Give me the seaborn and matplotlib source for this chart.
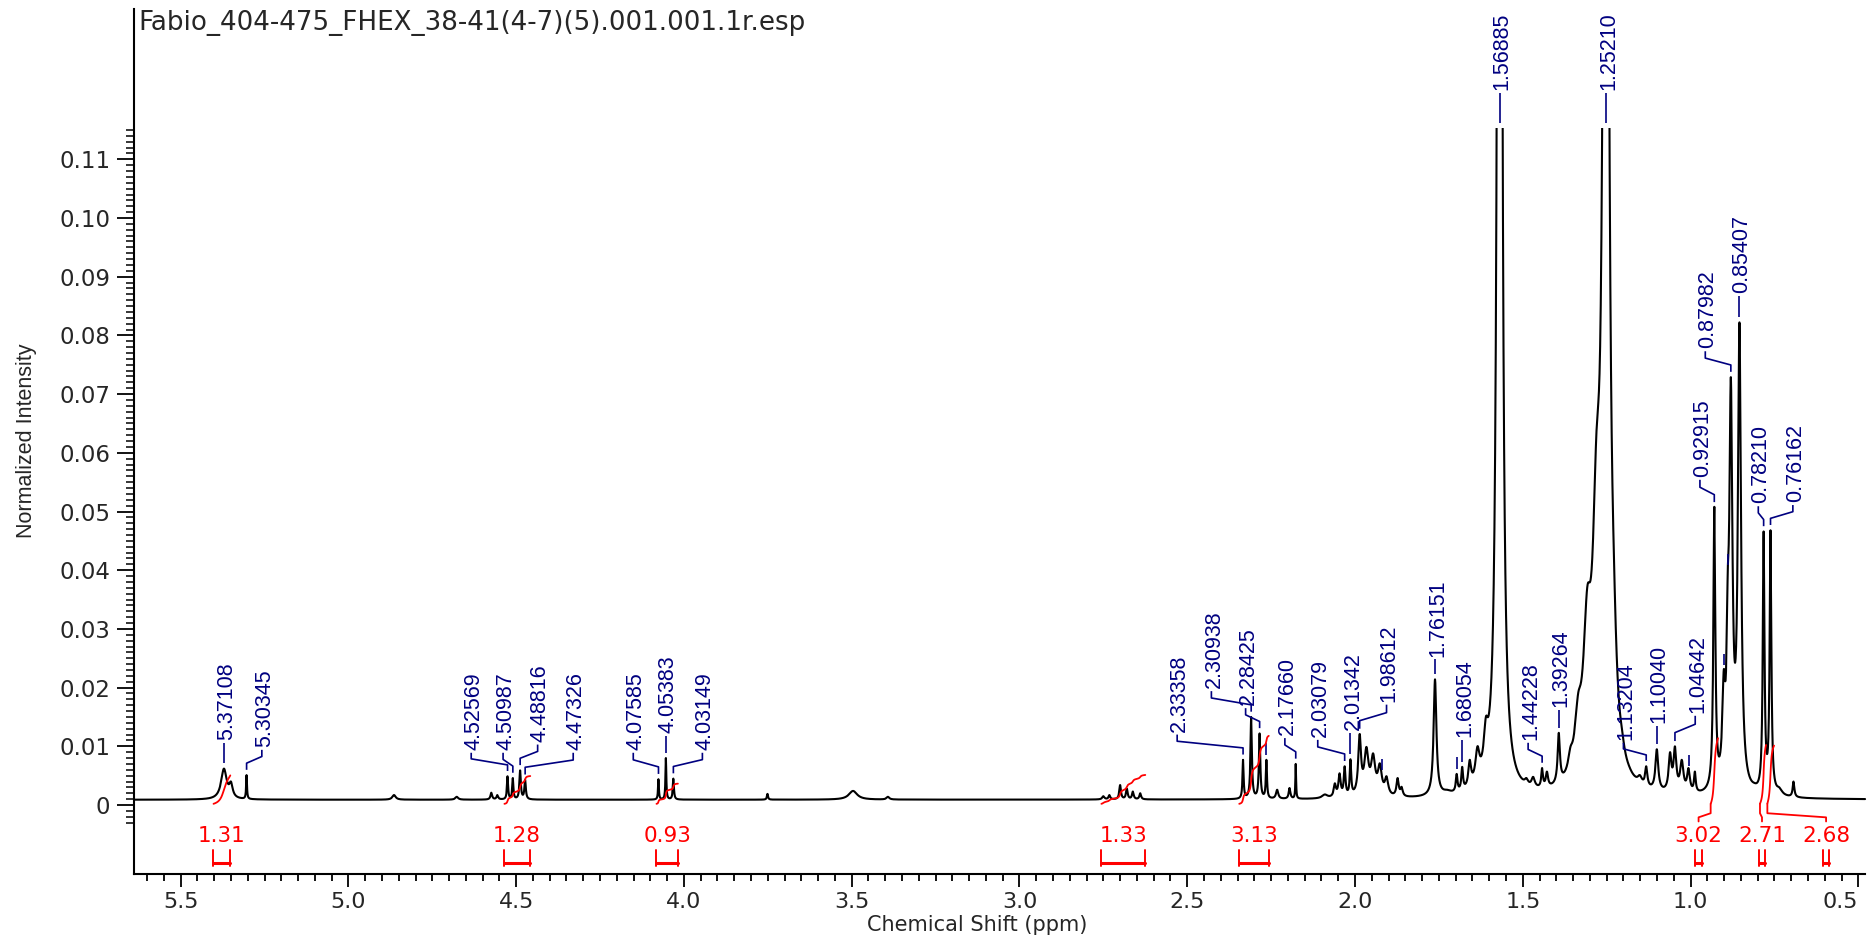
import numpy as np
import matplotlib
matplotlib.use("Agg")
import matplotlib.pyplot as plt
import seaborn as sns
from matplotlib import font_manager
from matplotlib.patches import Rectangle
from matplotlib.ticker import FixedLocator, FuncFormatter

# ---------------------------------------------------------------- texts
TITLE = "Fabio_404-475_FHEX_38-41(4-7)(5).001.001.1r.esp"
X_LABEL = "Chemical Shift (ppm)"
Y_LABEL = "Normalized Intensity"

# ---------------------------------------------------------------- spectrum
BASELINE = 0.0009          # flat baseline level of the trace
CLIP_LEVEL = 0.1153        # tallest peaks are cut at this intensity

# resolved lines: position (ppm), apex intensity, full width at half height (ppm)
peak_ppm = [5.371, 5.350, 5.3035, 4.864, 4.677,
            4.574, 4.556, 4.5257, 4.5099, 4.4882, 4.4733,
            4.0759, 4.0538, 4.0315, 3.751, 3.496, 3.392,
            2.750, 2.732, 2.700, 2.680, 2.662, 2.640,
            2.3336, 2.3094, 2.2843, 2.264, 2.232, 2.195, 2.1766,
            2.090, 2.060, 2.046, 2.0308, 2.0134, 1.9861, 1.966, 1.946, 1.926, 1.906,
            1.873, 1.861, 1.7615, 1.725, 1.697, 1.6805, 1.658, 1.635, 1.610,
            1.5689, 1.509, 1.489, 1.469, 1.4423, 1.428, 1.3926,
            1.358, 1.335, 1.308, 1.280, 1.2521, 1.229, 1.204, 1.182, 1.151,
            1.132, 1.1004, 1.061, 1.0464, 1.026, 1.006, 0.987,
            0.929, 0.901, 0.889, 0.8798, 0.8541, 0.833, 0.810,
            0.7821, 0.7616, 0.735, 0.693]
peak_top = [0.0062, 0.0040, 0.0051, 0.0017, 0.0014,
            0.0021, 0.0017, 0.0049, 0.0046, 0.0059, 0.0043,
            0.0044, 0.0080, 0.0045, 0.0019, 0.0024, 0.0014,
            0.0015, 0.0017, 0.0034, 0.0028, 0.0023, 0.0020,
            0.0077, 0.0150, 0.0122, 0.0077, 0.0026, 0.0029, 0.0070,
            0.0018, 0.0037, 0.0054, 0.0066, 0.0078, 0.0121, 0.0099, 0.0088, 0.0071, 0.0049,
            0.0046, 0.0031, 0.0214, 0.0026, 0.0053, 0.0065, 0.0077, 0.0100, 0.0150,
            0.50, 0.0050, 0.0046, 0.0048, 0.0063, 0.0057, 0.0123,
            0.0099, 0.0190, 0.0370, 0.0640, 0.30, 0.0440, 0.0128, 0.0065, 0.0051,
            0.0066, 0.0095, 0.0090, 0.0100, 0.0077, 0.0063, 0.0057,
            0.0508, 0.0230, 0.0400, 0.0729, 0.0823, 0.0060, 0.0040,
            0.0466, 0.0468, 0.0030, 0.0040]
peak_fwhm = [0.020, 0.012, 0.003, 0.012, 0.010,
             0.006, 0.006, 0.004, 0.004, 0.005, 0.005,
             0.003, 0.003, 0.004, 0.004, 0.030, 0.010,
             0.008, 0.006, 0.006, 0.006, 0.006, 0.006,
             0.004, 0.005, 0.005, 0.004, 0.008, 0.006, 0.0025,
             0.020, 0.008, 0.008, 0.006, 0.005, 0.010, 0.015, 0.015, 0.014, 0.012,
             0.008, 0.008, 0.010, 0.030, 0.006, 0.006, 0.010, 0.015, 0.015,
             0.0098, 0.015, 0.012, 0.012, 0.006, 0.008, 0.008,
             0.016, 0.024, 0.028, 0.028, 0.016, 0.020, 0.015, 0.015, 0.015,
             0.008, 0.010, 0.010, 0.010, 0.012, 0.010, 0.006,
             0.007, 0.010, 0.008, 0.011, 0.011, 0.015, 0.020,
             0.006, 0.006, 0.020, 0.006]

# ---------------------------------------------------------------- peak picking
label_ppm = [5.37108, 5.30345, 4.52569, 4.50987, 4.48816, 4.47326,
             4.07585, 4.05383, 4.03149, 2.33358, 2.30938, 2.28425,
             2.17660, 2.03079, 2.01342, 1.98612, 1.76151, 1.68054,
             1.56885, 1.44228, 1.39264, 1.25210, 1.13204, 1.10040,
             1.04642, 0.92915, 0.87982, 0.85407, 0.78210, 0.76162]
label_text_ppm = [5.371, 5.258, 4.634, 4.539, 4.436, 4.330,
                  4.151, 4.054, 3.945, 2.530, 2.428, 2.326,
                  2.209, 2.111, 2.013, 1.906, 1.762, 1.681,
                  1.569, 1.484, 1.393, 1.252, 1.200, 1.100,
                  0.986, 0.972, 0.956, 0.854, 0.798, 0.695]
label_text_y = [0.0111, 0.0099, 0.0094, 0.0094, 0.0108, 0.0094,
                0.0094, 0.0123, 0.0094, 0.0125, 0.0199, 0.0170,
                0.0119, 0.0116, 0.0128, 0.0176, 0.0253, 0.0116,
                0.1218, 0.0111, 0.0167, 0.1218, 0.0111, 0.0140,
                0.0157, 0.0559, 0.0778, 0.0872, 0.0514, 0.0516]
# picked lines drawn with a tick only
marker_ppm = [2.264, 1.920, 1.697, 1.004, 0.901, 0.889]

# ---------------------------------------------------------------- integrals
integral_value = [1.31, 1.28, 0.93, 1.33, 3.13, 3.02, 2.71, 2.68]
integral_from = [5.402, 4.535, 4.082, 2.756, 2.345, 0.940, 0.793, 0.771]
integral_to = [5.352, 4.458, 4.018, 2.625, 2.257, 0.918, 0.775, 0.751]
integral_label_ppm = [5.378, 4.497, 4.050, 2.691, 2.301, 0.976, 0.787, 0.596]
integral_leader = [False, False, False, False, False, True, True, True]
INTEGRAL_SCALE = 0.0037    # intensity units per integral unit
INTEGRAL_BASE = 0.0002

# ---------------------------------------------------------------- style
NAVY = "#000080"
RED = "#ff0000"


def has_font(name):
    try:
        path = font_manager.findfont(font_manager.FontProperties(family=name),
                                     fallback_to_default=False)
        return bool(path)
    except ValueError:
        return False


ARIAL = "Liberation Sans" if has_font("Liberation Sans") else "DejaVu Sans"
WIDE = "DejaVu Sans"
if has_font("Liberation Sans Narrow"):
    NARROW, LABEL_LENGTH = "Liberation Sans Narrow", 74
else:
    NARROW, LABEL_LENGTH = ARIAL, 78

sns.set_theme(style="ticks")
plt.rcParams["font.family"] = [WIDE]
plt.rcParams["axes.unicode_minus"] = False


def lorentz(x, center, fwhm):
    return 1.0 / (1.0 + ((x - center) / (0.5 * fwhm)) ** 2)


# amplitudes so that every line apex sits at its listed intensity
centers = np.asarray(peak_ppm)
widths = np.asarray(peak_fwhm)
tops = np.asarray(peak_top) - BASELINE
basis = lorentz(centers[:, None], centers[None, :], widths[None, :])
active = np.ones(len(centers), dtype=bool)
amps = np.zeros(len(centers))
for _ in range(len(centers)):
    sol, *_ = np.linalg.lstsq(basis[:, active], tops, rcond=None)
    amps[:] = 0.0
    amps[active] = sol
    if (sol >= 0).all():
        break
    active[np.where(active)[0][sol < 0]] = False

ppm = np.unique(np.concatenate([np.linspace(0.46, 5.66, 26001), centers]))


def spectrum(x):
    x = np.atleast_1d(x)
    return BASELINE + (amps[None, :] * lorentz(x[:, None], centers[None, :],
                                                 widths[None, :])).sum(axis=1)


intensity = spectrum(ppm)

# ---------------------------------------------------------------- figure
W, H = 1868, 942
fig = plt.figure(figsize=(W / 100, H / 100), dpi=100)
ax = fig.add_axes([134 / W, (H - 874) / H, (1865 - 134) / W, (874 - 9) / H])
ax.set_facecolor("white")
renderer = fig.canvas.get_renderer()


def size_for_length(text, family, length_px):
    probe = font_manager.FontProperties(family=family, size=20)
    width, _, _ = renderer.get_text_width_height_descent(text, probe, ismath=False)
    return 20 * length_px / width


LABEL_SIZE = size_for_length("5.37108", NARROW, LABEL_LENGTH)

sns.lineplot(x=ppm, y=intensity, ax=ax, color="black", linewidth=1.5,
             estimator=None, sort=False, legend=False)
trace = ax.lines[-1]
trace.set_clip_path(Rectangle((0.0, -1.0), 7.0, 1.0 + CLIP_LEVEL,
                              transform=ax.transData))

ax.set_xlim(5.639, 0.48)
ax.set_ylim(-0.01175, 0.1356)

# peak labels with their connectors
for pk, tx, ty in zip(label_ppm, label_text_ppm, label_text_y):
    apex = min(spectrum(pk)[0], CLIP_LEVEL)
    y_top = ty - 0.0005
    y_bot = apex + 0.0009
    if abs(tx - pk) < 0.004:
        tx = pk
        xs, ys = [pk, pk], [y_top, y_bot]
    else:
        step = (y_top - y_bot) / 3.0
        xs = [tx, tx, pk, pk]
        ys = [y_top, y_top - step, y_bot + step, y_bot]
    ax.plot(xs, ys, color=NAVY, linewidth=1.2, solid_capstyle="butt")
    ax.text(tx, ty, f"{pk:.5f}", rotation=90, rotation_mode="anchor",
            ha="left", va="center_baseline", color=NAVY, fontsize=LABEL_SIZE,
            fontfamily=NARROW)

for mk in marker_ppm:
    base = spectrum(mk)[0] + 0.0009
    ax.plot([mk, mk], [base, base + 0.0019], color=NAVY, linewidth=1.2,
            solid_capstyle="butt")

# integrals
for val, p0, p1, lp, lead in zip(integral_value, integral_from, integral_to,
                                 integral_label_ppm, integral_leader):
    sel = (ppm <= p0) & (ppm >= p1)
    xs = ppm[sel][::-1]
    area = np.cumsum(intensity[sel][::-1] - BASELINE)
    ys = INTEGRAL_BASE + val * INTEGRAL_SCALE * area / area[-1]
    ax.plot(xs, ys, color=RED, linewidth=1.3)
    if lead:
        ax.plot([p0, p0, lp, lp],
                [INTEGRAL_BASE, -0.0014, -0.0021, -0.0028],
                color=RED, linewidth=1.3)
    ax.text(lp, -0.0053, f"{val:.2f}", ha="center", va="center", color=RED,
            fontsize=15.5, fontfamily=WIDE)
    half = (p0 - p1) / 2.0
    ax.plot([lp + half, lp + half], [-0.0077, -0.0104], color=RED, linewidth=1.4)
    ax.plot([lp - half, lp - half], [-0.0077, -0.0104], color=RED, linewidth=1.4)
    ax.plot([lp + half, lp - half], [-0.0099, -0.0099], color=RED, linewidth=2.2)

# axes and ticks
for side in ("top", "right"):
    ax.spines[side].set_visible(False)
for side in ("left", "bottom"):
    ax.spines[side].set_linewidth(1.5)
    ax.spines[side].set_color("black")

x_major = np.round(np.arange(0.5, 5.51, 0.5), 2)
x_minor = [v for v in np.round(np.arange(0.5, 5.64, 0.05), 2) if v not in x_major]
y_major = np.round(np.arange(0.0, 0.111, 0.01), 3)
y_minor = [v for v in np.round(np.arange(-0.003, 0.1155, 0.001), 3) if v not in y_major]

ax.xaxis.set_major_locator(FixedLocator(x_major))
ax.xaxis.set_minor_locator(FixedLocator(x_minor))
ax.yaxis.set_major_locator(FixedLocator(y_major))
ax.yaxis.set_minor_locator(FixedLocator(y_minor))
ax.xaxis.set_major_formatter(FuncFormatter(lambda v, _: f"{v:.1f}"))
ax.yaxis.set_major_formatter(FuncFormatter(lambda v, _: "0" if abs(v) < 1e-9 else f"{v:.2f}"))

ax.tick_params(axis="x", which="major", length=9.4, width=1.3, pad=3.5,
               labelsize=16, direction="out", color="black")
ax.tick_params(axis="x", which="minor", length=5, width=1.3, direction="out",
               color="black")
ax.tick_params(axis="y", which="major", length=12, width=1.3, pad=5,
               labelsize=16.5, direction="out", color="black")
ax.tick_params(axis="y", which="minor", length=5.8, width=1.1, direction="out",
               color="black")
ax.grid(False)

# the last shift label sits flush against the end of the scale
edge_tick = ax.xaxis.get_major_ticks(len(x_major))[0]
edge_tick.label1.set_horizontalalignment("right")

ax.set_xlabel(X_LABEL, fontsize=15, fontfamily=WIDE)
ax.xaxis.set_label_coords(977 / W, 1 - 925 / H, transform=fig.transFigure)
ax.xaxis.label.set_verticalalignment("center")
ax.set_ylabel(Y_LABEL, fontsize=15.5, fontfamily=ARIAL)
ax.yaxis.set_label_coords(27 / W, 1 - 441 / H, transform=fig.transFigure)
ax.yaxis.label.set_verticalalignment("center")

fig.text(138 / W, 1 - 30 / H, TITLE, ha="left", va="baseline", fontsize=18.8,
         fontfamily=WIDE)

fig.savefig("out.png", dpi=100, facecolor="white")
